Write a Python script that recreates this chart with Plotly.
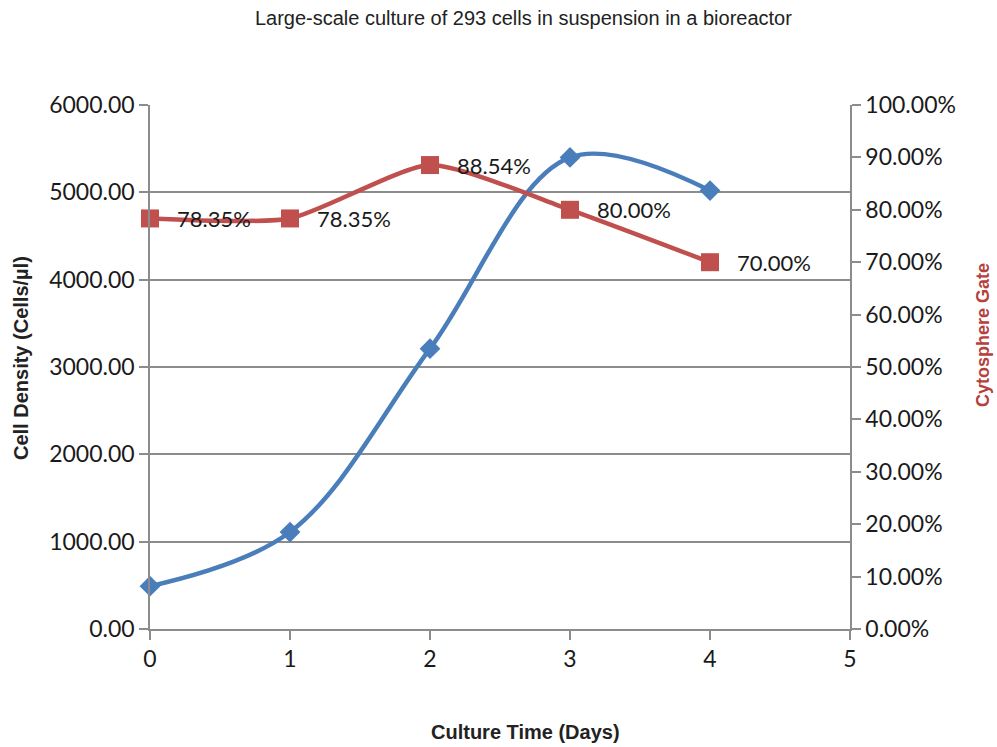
import plotly.graph_objects as go

days = [0, 1, 2, 3, 4]
cell_density = [490, 1110, 3210, 5400, 5020]
cytosphere_gate = [0.7835, 0.7835, 0.8854, 0.80, 0.70]
gate_labels = ["78.35%", "78.35%", "88.54%", "80.00%", "70.00%"]

blue = "#4a7ebb"
red = "#c0504d"
grid = "#8c8c8c"
tick_font = dict(family="Lato, Carlito, sans-serif", size=23, color="#1a1a1a")
title_family = "Liberation Sans, Arial, sans-serif"

W, H = 997, 747

fig = go.Figure()
fig.add_trace(go.Scatter(
    x=days, y=cell_density, mode="lines+markers",
    line=dict(color=blue, width=4.5, shape="spline", smoothing=1.0),
    marker=dict(symbol="diamond", size=16, color=blue),
    yaxis="y", showlegend=False, cliponaxis=False,
))
fig.add_trace(go.Scatter(
    x=days, y=cytosphere_gate, mode="lines+markers",
    line=dict(color=red, width=4.5, shape="spline", smoothing=0.6),
    marker=dict(symbol="square", size=18, color=red),
    yaxis="y2", showlegend=False, cliponaxis=False,
))

for d, g, lab in zip(days, cytosphere_gate, gate_labels):
    fig.add_annotation(
        x=d, y=g, xref="x", yref="y2", text=lab, showarrow=False,
        xanchor="left", yanchor="middle", xshift=25,
        font=dict(family="Lato, Carlito, sans-serif", size=22, color="#1a1a1a"),
    )

# axis titles placed as annotations (paper coords from pixel positions)
def px(xp):
    return xp / W

def py(yp):
    return 1 - yp / H

fig.add_annotation(
    text="<b>Culture Time (Days)</b>", xref="paper", yref="paper",
    x=(525 - 150) / 700, y=-(732 - 629) / 524, xanchor="center", yanchor="middle",
    showarrow=False, font=dict(family=title_family, size=20, color="#222222"),
)
fig.add_annotation(
    text="<b>Cell Density (Cells/µl)</b>", xref="paper", yref="paper",
    x=-(150 - 21) / 700, y=(629 - 358) / 524, xanchor="center", yanchor="middle",
    textangle=-90, showarrow=False,
    font=dict(family=title_family, size=20, color="#222222"),
)
fig.add_annotation(
    text="<b>Cytosphere Gate</b>", xref="paper", yref="paper",
    x=1 + (983 - 850) / 700, y=(629 - 335) / 524, xanchor="center", yanchor="middle",
    textangle=-90, showarrow=False,
    font=dict(family=title_family, size=18, color="#b5403c"),
)

fig.update_layout(
    width=W, height=H,
    margin=dict(l=150, r=147, t=105, b=118),
    paper_bgcolor="white", plot_bgcolor="white",
    title=dict(
        text="Large-scale culture of 293 cells in suspension in a bioreactor",
        x=0.525, xanchor="center", y=1 - 18 / H, yanchor="middle", yref="container",
        font=dict(family=title_family, size=20, color="#222222"),
    ),
    xaxis=dict(
        range=[0, 5], dtick=1, tick0=0, showgrid=False, zeroline=False,
        showline=True, linecolor=grid, linewidth=1.5,
        ticks="outside", ticklen=9, tickcolor=grid, tickwidth=1.5,
        tickfont=tick_font,
    ),
    yaxis=dict(
        range=[0, 6000], dtick=1000, tickformat=".2f",
        showgrid=True, gridcolor=grid, gridwidth=1.5, zeroline=False,
        showline=True, linecolor=grid, linewidth=1.5,
        ticks="outside", ticklen=9, tickcolor=grid, tickwidth=1.5,
        tickfont=tick_font,
    ),
    yaxis2=dict(
        range=[0, 1], dtick=0.1, tickformat=".2%", overlaying="y", side="right",
        showgrid=False, zeroline=False,
        showline=True, linecolor=grid, linewidth=1.5,
        ticks="outside", ticklen=9, tickcolor=grid, tickwidth=1.5,
        tickfont=tick_font,
    ),
)

fig.write_html("out.html")
